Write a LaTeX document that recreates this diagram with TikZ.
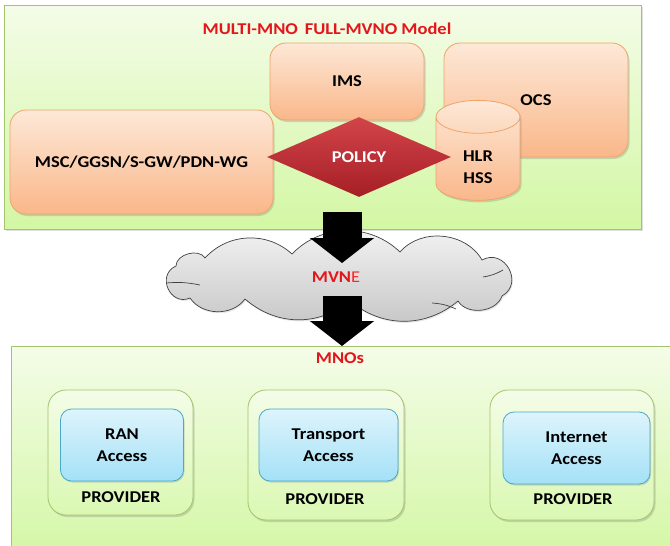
\documentclass[tikz,border=0pt]{standalone}
\usepackage{fontspec}
\setmainfont{Carlito}[FakeStretch=1.12]
\usetikzlibrary{arrows.meta,shapes.geometric,shadows}

\definecolor{PanelTop}{HTML}{F4FCE8}
\definecolor{PanelBot}{HTML}{D3F7A4}
\definecolor{PanelLine}{HTML}{A3C46C}
\definecolor{OrangeTop}{HTML}{FDE8D7}
\definecolor{OrangeBot}{HTML}{FAB78A}
\definecolor{OrangeLine}{HTML}{EFA468}
\definecolor{PolicyTop}{HTML}{D2444A}
\definecolor{PolicyBot}{HTML}{A51F25}
\definecolor{CyanTop}{HTML}{DDF4FC}
\definecolor{CyanBot}{HTML}{A4E1F6}
\definecolor{CyanLine}{HTML}{4AAACB}
\definecolor{TitleRed}{HTML}{E3161B}

\begin{document}
\begin{tikzpicture}[x=1pt, y=-1pt, line width=0.8pt,
    every node/.append style={align=center, font=\fontsize{16.5}{22}\selectfont\bfseries},
    panel/.style={draw=PanelLine, top color=PanelTop, bottom color=PanelBot,
      drop shadow={opacity=0.25, shadow xshift=1.5pt, shadow yshift=-1.5pt}},
    orangebox/.style={draw=OrangeLine, top color=OrangeTop, bottom color=OrangeBot,
      rounded corners=16pt,
      drop shadow={opacity=0.3, shadow xshift=1.5pt, shadow yshift=-2pt}},
    cyanbox/.style={draw=CyanLine, top color=CyanTop, bottom color=CyanBot,
      rounded corners=11pt, minimum height=72pt,
      drop shadow={opacity=0.3, shadow xshift=1pt, shadow yshift=-1.5pt}},
    provbox/.style={draw=PanelLine, top color=PanelTop, bottom color=PanelBot!85!white,
      rounded corners=18pt,
      drop shadow={opacity=0.3, shadow xshift=1.5pt, shadow yshift=-2pt}},
    cloudline/.style={draw=black!75, line width=0.7pt},
    redlabel/.style={text=TitleRed},
    blockarrow/.style={line width=39pt, black, -{Triangle[length=25pt, width=63pt]}}]

  \useasboundingbox (0,0) rectangle (670,546);

  % top panel
  \node (model) [panel, minimum width=637pt, minimum height=224pt] at (322.5,117) {};
  \node (title) [redlabel] at (327,29) {MULTI-MNO\, FULL-MVNO Model};

  \node (ims) [orangebox, minimum width=154pt, minimum height=77pt] at (347,81.5) {IMS};
  \node (ocs) [orangebox, minimum width=184pt, minimum height=114pt] at (536,100) {OCS};
  \node (msc) [orangebox, minimum width=263pt, minimum height=104pt] at (141.5,162) {MSC/GGSN/S-GW/PDN-WG};
  \node (hlr) [cylinder, shape border rotate=90, aspect=0.9, draw=OrangeLine,
    top color=OrangeTop, bottom color=OrangeBot, minimum width=84pt, minimum height=100pt,
    drop shadow={opacity=0.3, shadow xshift=1.5pt, shadow yshift=-2pt}] at (478,162) {\\HLR\\HSS};
  \node (policy) [diamond, inner sep=0pt, minimum width=184pt, minimum height=80pt,
    top color=PolicyTop, bottom color=PolicyBot, text=white] at (359,157) {POLICY};

  % bottom panel
  \node (mnos) [panel, minimum width=670pt, minimum height=214pt, anchor=north west] at (11,346) {};
  \node (mnolabel) [redlabel] at (340,358) {MNOs};

  \node (prov1) [provbox, minimum width=145pt, minimum height=125pt] at (120.5,452.5) {};
  \node (ran) [cyanbox, minimum width=123pt] at (122,445) {RAN\\Access};
  \node (lbl1) at (121,497) {PROVIDER};

  \node (prov2) [provbox, minimum width=156pt, minimum height=130pt] at (326,455) {};
  \node (transport) [cyanbox, minimum width=139pt] at (328.5,445) {Transport\\Access};
  \node (lbl2) at (325,499) {PROVIDER};

  \node (prov3) [provbox, minimum width=164pt, minimum height=130pt] at (572,455) {};
  \node (internet) [cyanbox, minimum width=147pt] at (576.5,448) {Internet\\Access};
  \node (lbl3) at (573,499) {PROVIDER};

  % MVNE cloud
  \path[cloudline, top color=gray!8, bottom color=gray!45,
    drop shadow={opacity=0.2, shadow xshift=1pt, shadow yshift=-1.5pt}]
    (176,266) to[bend left=75] (205,258) to[bend left=45] (292,254)
    to[bend left=45] (400,252) to[bend left=55] (482,260)
    to[bend left=90, looseness=1.6] (502,296) to[bend left=65] (458,301)
    to[bend left=40] (350,301) to[bend left=40] (245,299)
    to[bend left=55] (190,298) to[bend left=90, looseness=1.6] (176,266) -- cycle;
  \draw[cloudline] (166,283) to[bend left=8] (200,285);
  \draw[cloudline] (483,277) to[bend right=10] (503,270);
  \draw[cloudline] (432,303) to[bend left=10] (456,309);
  \node (mvne) [redlabel] at (336,277) {MVN{\color{red!85}\mdseries E}};

  % arrows
  \coordinate (a1from) at (342,212);
  \coordinate (a1to) at (342,263);
  \coordinate (a2from) at (342,296);
  \coordinate (a2to) at (342,346);
  \draw[blockarrow] (a1from) -- (a1to);
  \draw[blockarrow] (a2from) -- (a2to);
\end{tikzpicture}
\end{document}
